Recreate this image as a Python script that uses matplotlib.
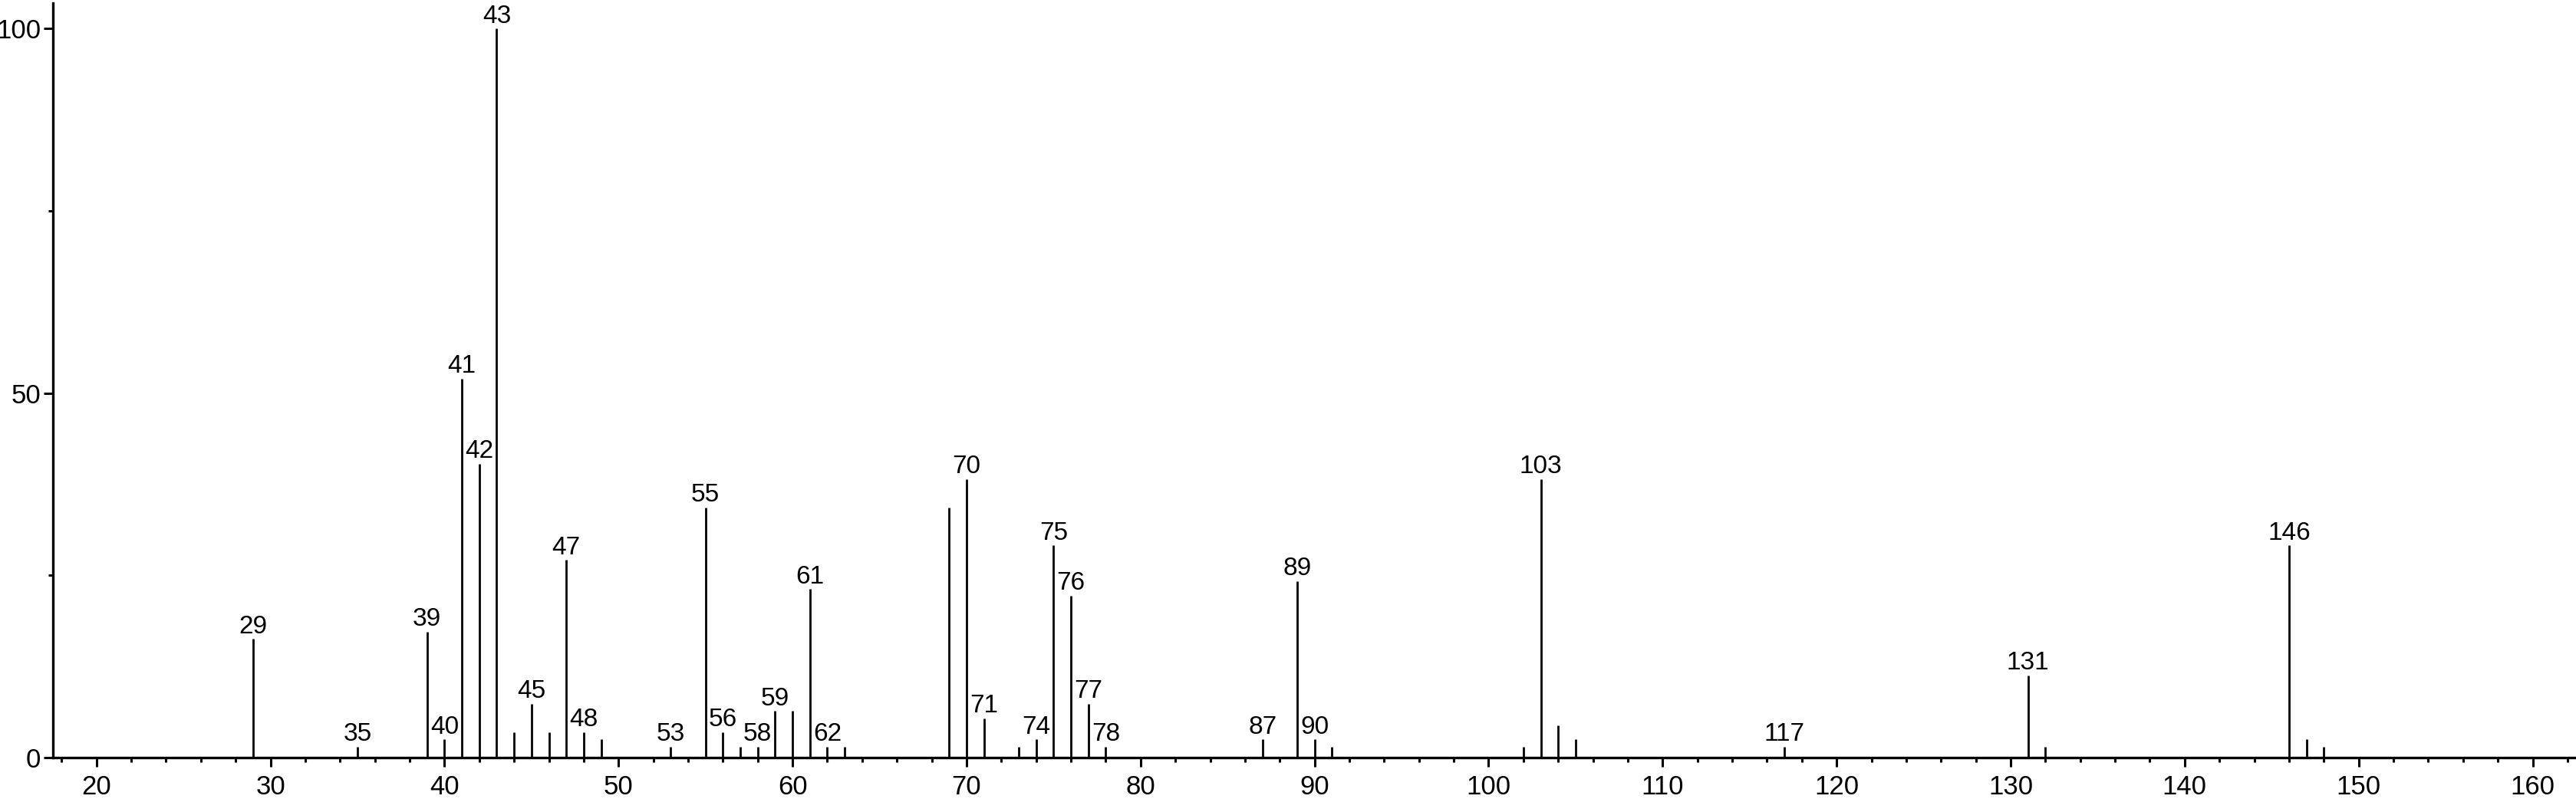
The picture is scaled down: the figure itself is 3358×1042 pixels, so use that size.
import matplotlib
matplotlib.use("Agg")
import matplotlib.pyplot as plt
from matplotlib.ticker import MultipleLocator

plt.rcParams['font.family'] = ['Liberation Sans', 'DejaVu Sans']

# m/z values and relative intensities
mz = [29, 35, 39, 40, 41, 42, 43, 44, 45, 46, 47, 48, 49, 53, 55, 56, 57, 58,
      59, 60, 61, 62, 63, 69, 70, 71, 73, 74, 75, 76, 77, 78, 87, 89, 90, 91,
      102, 103, 104, 105, 117, 131, 132, 146, 147, 148]
intensity = [16.3, 1.5, 17.3, 2.5, 52.0, 40.3, 100.0, 3.5, 7.4, 3.5, 27.1, 3.5,
             2.5, 1.5, 34.3, 3.5, 1.5, 1.5, 6.4, 6.4, 23.1, 1.5, 1.5, 34.3,
             38.2, 5.4, 1.5, 2.5, 29.1, 22.2, 7.4, 1.5, 2.5, 24.2, 2.5, 1.5,
             1.5, 38.2, 4.4, 2.5, 1.5, 11.3, 1.5, 29.1, 2.5, 1.5]
labeled = [29, 35, 39, 40, 41, 42, 43, 45, 47, 48, 53, 55, 56, 58, 59, 61, 62,
           70, 71, 74, 75, 76, 77, 78, 87, 89, 90, 103, 117, 131, 146]

fig = plt.figure(figsize=(33.58, 10.42), dpi=100)
ax = fig.add_axes([69 / 3358, 54 / 1042, (3356 - 69) / 3358, (988 - 4) / 1042])

ax.vlines(mz, 0, intensity, color='black', lw=2)

for m, h in zip(mz, intensity):
    if m in labeled:
        ax.annotate(str(m), (m, h), xytext=(0, 5.4), textcoords='offset points',
                    ha='center', va='baseline', fontsize=24)

ax.set_xlim(17.5, 162.4)
ax.set_ylim(0, 103.5)
ax.xaxis.set_major_locator(MultipleLocator(10))
ax.xaxis.set_minor_locator(MultipleLocator(2))
ax.yaxis.set_major_locator(MultipleLocator(50))
ax.yaxis.set_minor_locator(MultipleLocator(25))

for s in ['top', 'right']:
    ax.spines[s].set_visible(False)
for s in ['left', 'bottom']:
    ax.spines[s].set_linewidth(2.4)

ax.tick_params(axis='both', which='major', width=2.2, length=8.6, labelsize=25)
ax.tick_params(axis='both', which='minor', width=2.2, length=4.3)
ax.tick_params(axis='x', which='major', pad=7)
ax.tick_params(axis='y', which='major', pad=2.9)

fig.savefig('out.png', dpi=100)
